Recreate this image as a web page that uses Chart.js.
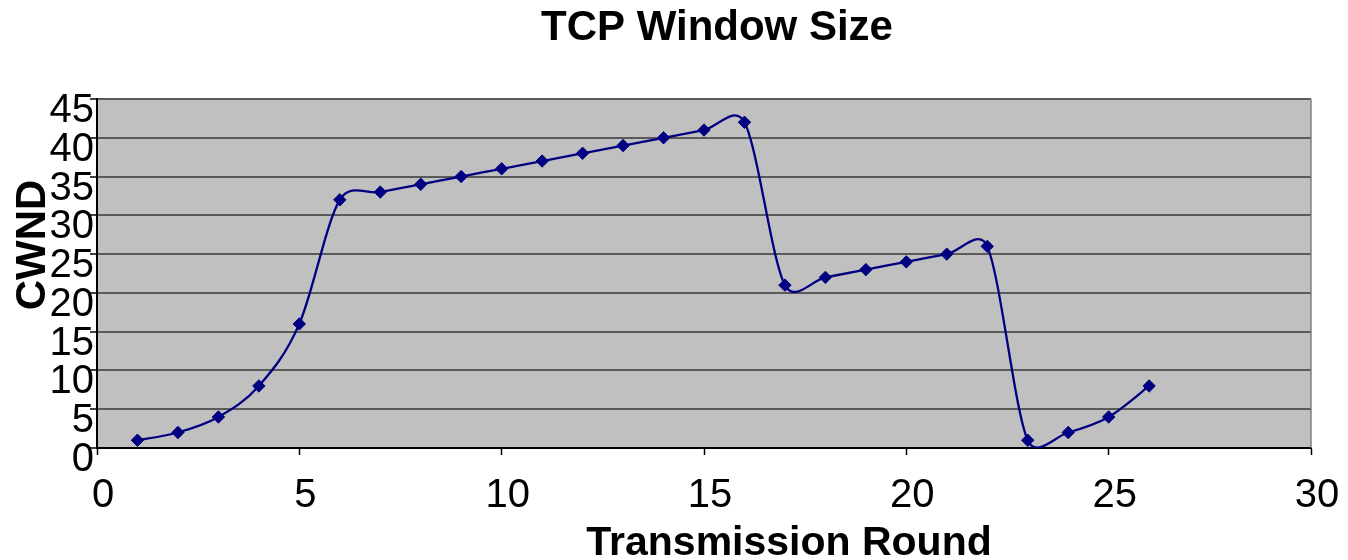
<!DOCTYPE html>
<html>
<head>
<meta charset="utf-8">
<script src="https://cdn.jsdelivr.net/npm/chart.js@4.4.0/dist/chart.umd.min.js"></script>
<style>
  html, body { margin: 0; padding: 0; background: #ffffff; }
  #wrap { width: 1348px; height: 560px; position: relative; }
</style>
</head>
<body>
<div id="wrap"><canvas id="c" width="1348" height="560"></canvas></div>
<script>
const chartTitle = "TCP Window Size";
const xAxisTitle = "Transmission Round";
const yAxisTitle = "CWND";
const rounds = [1, 2, 3, 4, 5, 6, 7, 8, 9, 10, 11, 12, 13, 14, 15, 16, 17, 18, 19, 20, 21, 22, 23, 24, 25, 26];
const cwnd = [1, 2, 4, 8, 16, 32, 33, 34, 35, 36, 37, 38, 39, 40, 41, 42, 21, 22, 23, 24, 25, 26, 1, 2, 4, 8];
const xTicks = [0, 5, 10, 15, 20, 25, 30];
const yTicks = [0, 5, 10, 15, 20, 25, 30, 35, 40, 45];

const FONT = "'Liberation Sans', Arial, Helvetica, sans-serif";

// Excel-like smoothing: Catmull-Rom arms (next - prev)/6, each capped at half the adjacent segment length
const smoothPlugin = {
  id: 'excelSmooth',
  beforeDatasetDraw(chart, args) {
    const line = args.meta.dataset;
    const pts = line.points;
    if (!pts || pts.length < 2) return;
    for (let i = 0; i < pts.length; i++) {
      const p = pts[i];
      const prev = pts[i - 1] || p;
      const next = pts[i + 1] || p;
      const tx = (next.x - prev.x) / 6;
      const ty = (next.y - prev.y) / 6;
      const arm = Math.hypot(tx, ty) || 1;
      const segPrev = Math.hypot(p.x - prev.x, p.y - prev.y);
      const segNext = Math.hypot(next.x - p.x, next.y - p.y);
      const sPrev = Math.min(1, (segPrev * 0.5) / arm);
      const sNext = Math.min(1, (segNext * 0.5) / arm);
      p.cp1x = p.x - tx * sPrev;
      p.cp1y = p.y - ty * sPrev;
      p.cp2x = p.x + tx * sNext;
      p.cp2y = p.y + ty * sNext;
    }
  }
};

const decorPlugin = {
  id: 'decor',
  beforeDraw(chart) {
    const { ctx, chartArea: a } = chart;
    ctx.save();
    ctx.fillStyle = '#C0C0C0';
    ctx.fillRect(a.left, a.top, a.right - a.left, a.bottom - a.top);
    ctx.restore();
  },
  afterDraw(chart) {
    const { ctx, chartArea: a } = chart;
    ctx.save();
    ctx.strokeStyle = '#808080';
    ctx.lineWidth = 1.5;
    ctx.beginPath();
    ctx.moveTo(a.right, a.top);
    ctx.lineTo(a.right, a.bottom);
    ctx.stroke();
    ctx.fillStyle = '#000';
    ctx.textAlign = 'center';
    ctx.textBaseline = 'alphabetic';
    ctx.font = "bold 42px " + FONT;
    ctx.fillText(chartTitle, 717, 40);
    ctx.font = "bold 41px " + FONT;
    ctx.fillText(xAxisTitle, 789, 555);
    ctx.translate(45, 245);
    ctx.rotate(-Math.PI / 2);
    ctx.font = "bold 42px " + FONT;
    ctx.fillText(yAxisTitle, 0, 0);
    ctx.restore();
  }
};

new Chart(document.getElementById('c'), {
  type: 'line',
  data: {
    datasets: [{
      data: rounds.map((r, i) => ({ x: r, y: cwnd[i] })),
      borderColor: '#000080',
      backgroundColor: '#000080',
      borderWidth: 2.3,
      tension: 0.3,
      capBezierPoints: false,
      pointStyle: 'rectRot',
      pointRadius: 6.2,
      pointBorderWidth: 1,
      pointBackgroundColor: '#000080',
      pointBorderColor: '#000080',
      fill: false
    }]
  },
  options: {
    responsive: false,
    animation: false,
    devicePixelRatio: 1,
    layout: { padding: { top: 99, right: 37, left: 0, bottom: 0 } },
    plugins: { legend: { display: false }, title: { display: false }, tooltip: { enabled: false } },
    scales: {
      x: {
        type: 'linear',
        min: 0, max: 30,
        afterBuildTicks(scale) { scale.ticks = xTicks.map(v => ({ value: v })); },
        afterFit(scale) { scale.height = 112; scale.paddingLeft = 0; scale.paddingRight = 0; },
        ticks: {
          color: '#000',
          font: { family: FONT, size: 40 },
          padding: 17,
          labelOffset: 6,
          maxRotation: 0,
          autoSkip: false
        },
        grid: { drawOnChartArea: false, drawTicks: true, tickLength: 7, tickColor: '#000', tickWidth: 1.5 },
        border: { display: true, color: '#000', width: 2 }
      },
      y: {
        min: 0, max: 45,
        afterBuildTicks(scale) { scale.ticks = yTicks.map(v => ({ value: v })); },
        afterFit(scale) { scale.width = 97; scale.paddingTop = 0; scale.paddingBottom = 0; },
        ticks: {
          color: '#000',
          font: { family: FONT, size: 40 },
          padding: -4,
          labelOffset: 12,
          autoSkip: false
        },
        grid: { drawOnChartArea: true, color: '#5a5a5a', lineWidth: 2, drawTicks: true, tickLength: 7, tickColor: '#000', tickWidth: 1.5 },
        border: { display: true, color: '#000', width: 2 }
      }
    }
  },
  plugins: [smoothPlugin, decorPlugin]
});
</script>
</body>
</html>
